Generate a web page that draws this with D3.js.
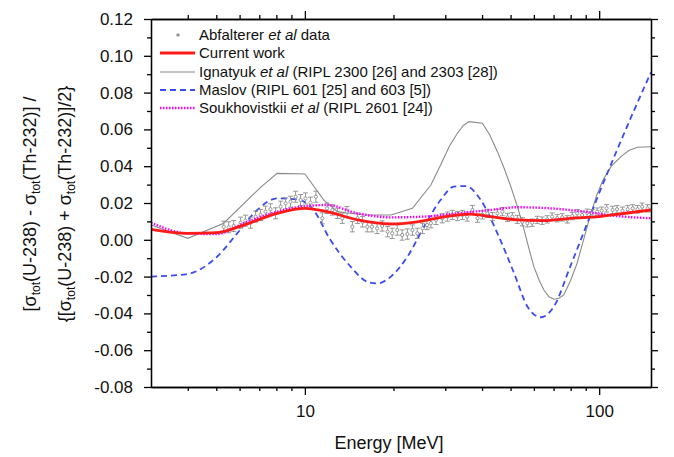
<!DOCTYPE html>
<html lang="en">
<head>
<meta charset="utf-8">
<title>U-238 / Th-232 total cross section difference</title>
<script src="https://cdn.jsdelivr.net/npm/d3@7/dist/d3.min.js"></script>
<style>
  body { margin: 0; background: #fff; }
  svg { font-family: "Liberation Sans", Arial, sans-serif; }
  .axis path, .axis line { stroke: #000; stroke-width: 1.3; }
  .axis text { font-size: 16px; fill: #111; }
</style>
</head>
<body>
<script>
// Abfalterer et al data
var dataE = [5.30,5.51,5.73,6.05,6.28,6.54,6.8,7.07,7.35,7.64,7.95,8.27,8.6,8.94,9.3,9.67,10.05,10.45,10.9,11.46,11.9,12.4,12.9,13.4,13.9,14.5,15.1,15.7,16.3,16.9,17.6,18.3,19.1,19.8,20.6,21.4,22.3,23.2,24.1,25.1,26.0,26.8,27.9,29.3,30.5,31.7,33.0,34.3,35.6,37.1,38.6,40.1,41.7,43.4,45.1,46.9,48.8,50.7,52.7,54.8,57.0,59.2,61.6,64.0,66.6,69.2,72.0,74.9,77.9,81.0,84.2,87.5,91.0,94.6,98.4,102,106,111,115,120,125,130,135,140,146];
var dataV = [0.0071,0.0068,0.0075,0.0093,0.0104,0.0093,0.0126,0.0135,0.0153,0.0166,0.0144,0.018,0.0198,0.0207,0.0234,0.0216,0.0225,0.0202,0.0234,0.0117,0.0171,0.0162,0.0144,0.0117,0.0153,0.0071,0.0117,0.0098,0.0071,0.0071,0.0062,0.0075,0.0044,0.0035,0.0053,0.0026,0.0031,0.0053,0.0035,0.0062,0.008,0.009,0.0108,0.0117,0.0126,0.0135,0.0129,0.0135,0.0126,0.0162,0.0117,0.0135,0.0144,0.0126,0.0144,0.0153,0.0122,0.0126,0.0111,0.0098,0.009,0.0093,0.0108,0.0104,0.0111,0.0126,0.0117,0.0122,0.0111,0.0129,0.0144,0.0135,0.0147,0.0144,0.0153,0.0158,0.0171,0.0162,0.0166,0.0158,0.0166,0.0171,0.0166,0.018,0.0171];
var dataErr = [0.003,0.003,0.003,0.003,0.003,0.003,0.003,0.003,0.003,0.003,0.003,0.003,0.003,0.003,0.003,0.003,0.003,0.003,0.003,0.003,0.0028,0.0028,0.0028,0.0028,0.0028,0.0028,0.0028,0.0028,0.0028,0.0028,0.0028,0.0028,0.0028,0.0028,0.0028,0.0028,0.0028,0.0028,0.0028,0.0028,0.0025,0.0025,0.0025,0.0025,0.0025,0.0025,0.0025,0.0025,0.0025,0.0025,0.0022,0.0022,0.0022,0.0022,0.0022,0.0022,0.0022,0.0022,0.0022,0.0022,0.002,0.002,0.002,0.002,0.002,0.002,0.002,0.002,0.002,0.002,0.002,0.002,0.002,0.002,0.002,0.002,0.002,0.002,0.002,0.002,0.002,0.002,0.002,0.002,0.002];

// Current work
var currentE = [3,3.98,5.03,6.2,8.05,10,11.9,15.1,19.6,24.1,30,36.5,42.8,52.7,64.7,79.7,100,117,150];
var currentV = [0.0057,0.0035,0.0039,0.008,0.0144,0.0171,0.0153,0.0108,0.0086,0.0098,0.0126,0.014,0.0126,0.0108,0.0104,0.0117,0.0126,0.014,0.0162];

// Ignatyuk et al
var ignE = [3,4.0,5.3,7.07,8.05,10,11.6,12.9,15.9,19.6,23.2,26.8,29,31,33,34.5,36.1,40.1,42.5,45.1,47.5,50.1,53,55.6,58,60,62.5,64.9,67.5,70.1,73,75.8,80,84.1,88.5,93,98,103,110,118.5,126,135,150];
var ignV = [0.0081,0.0008,0.009,0.0285,0.0361,0.0358,0.0216,0.0153,0.0135,0.0135,0.0171,0.0298,0.041,0.051,0.0579,0.062,0.0642,0.0633,0.057,0.0479,0.039,0.0289,0.017,0.0053,-0.006,-0.0146,-0.022,-0.0273,-0.031,-0.0323,-0.0318,-0.030,-0.022,-0.0128,0.0,0.0126,0.024,0.0325,0.040,0.0452,0.0485,0.0503,0.0506];

// Maslov
var masE = [3,3.98,5.03,5.89,6.89,8.05,9.42,10.7,12.2,14.3,16.3,17.6,19.6,22.3,25.4,28.9,32.1,35.2,39.6,45.1,51.4,57.1,63.3,70.1,79.7,93,101,115,131.5,150];
var masV = [-0.020,-0.0186,-0.0092,0.0035,0.0162,0.0225,0.022,0.0162,0.0,-0.0146,-0.0228,-0.0237,-0.020,-0.0092,0.0071,0.0216,0.0289,0.0292,0.0216,0.0035,-0.0182,-0.0364,-0.0421,-0.0364,-0.0146,0.0126,0.0271,0.0488,0.0705,0.091];

// Soukhovistkii et al
var souE = [3,3.98,5.03,6.2,8.05,10.2,11.9,15.1,19.6,25.4,33,42.8,52.7,68.2,88.9,115,150];
var souV = [0.0093,0.0035,0.0031,0.009,0.0153,0.0184,0.0189,0.0144,0.0122,0.0126,0.0144,0.0162,0.0177,0.0171,0.0153,0.0129,0.0117];

var xMajor = [10, 100];
var xMinor = [4,5,6,7,8,9,20,30,40,50,60,70,80,90];
var yMajor = [-0.08,-0.06,-0.04,-0.02,0,0.02,0.04,0.06,0.08,0.10,0.12];
var yMinor = [-0.07,-0.05,-0.03,-0.01,0.01,0.03,0.05,0.07,0.09,0.11];

var legendLabels = [
  ["Abfalterer ", "et al", " data"],
  ["Current work", "", ""],
  ["Ignatyuk ", "et al", " (RIPL 2300 [26] and 2303 [28])"],
  ["Maslov (RIPL 601 [25] and 603 [5])", "", ""],
  ["Soukhovistkii ", "et al", " (RIPL 2601 [24])"]
];

var W = 674, H = 457;
var mLeft = 151, mRight = 651, mTop = 19, mBottom = 387;

var svg = d3.select("body").append("svg")
    .attr("width", W).attr("height", H);

var x = d3.scaleLog().domain([3, 150]).range([mLeft, mRight]);
var y = d3.scaleLinear().domain([-0.08, 0.12]).range([mBottom, mTop]);

// clip for curves
svg.append("clipPath").attr("id", "clip")
  .append("rect").attr("x", mLeft).attr("y", mTop)
  .attr("width", mRight - mLeft).attr("height", mBottom - mTop);

var plot = svg.append("g").attr("clip-path", "url(#clip)");

function pts(es, vs) { return es.map(function(e, i) { return [e, vs[i]]; }); }

var smooth = d3.line().x(function(d) { return x(d[0]); }).y(function(d) { return y(d[1]); })
    .curve(d3.curveMonotoneX);
var segs = d3.line().x(function(d) { return x(d[0]); }).y(function(d) { return y(d[1]); });

// Ignatyuk (grey)
plot.append("path").datum(pts(ignE, ignV))
  .attr("d", segs).attr("fill", "none")
  .attr("stroke", "#8a8a8a").attr("stroke-width", 1.1);

// Maslov (blue dashed)
plot.append("path").datum(pts(masE, masV))
  .attr("d", smooth).attr("fill", "none")
  .attr("stroke", "#3a4cf0").attr("stroke-width", 1.8)
  .attr("stroke-dasharray", "6,4");

// data with error bars
var dat = dataE.map(function(e, i) { return {e: e, v: dataV[i], err: dataErr[i]}; });
var pg = plot.append("g").attr("stroke", "#8c8c8c").attr("stroke-width", 0.9).attr("fill", "none");
dat.forEach(function(d) {
  var cx = x(d.e), y0 = y(d.v - d.err), y1 = y(d.v + d.err);
  pg.append("line").attr("x1", cx).attr("x2", cx).attr("y1", y0).attr("y2", y1);
  pg.append("line").attr("x1", cx - 2.5).attr("x2", cx + 2.5).attr("y1", y0).attr("y2", y0);
  pg.append("line").attr("x1", cx - 2.5).attr("x2", cx + 2.5).attr("y1", y1).attr("y2", y1);
  pg.append("circle").attr("cx", cx).attr("cy", y(d.v)).attr("r", 1.6).attr("fill", "#fff");
});

// Soukhovistkii (magenta dotted)
plot.append("path").datum(pts(souE, souV))
  .attr("d", smooth).attr("fill", "none")
  .attr("stroke", "#ff00ff").attr("stroke-width", 2.4)
  .attr("stroke-dasharray", "1.5,1.5");

// Current work (red)
plot.append("path").datum(pts(currentE, currentV))
  .attr("d", smooth).attr("fill", "none")
  .attr("stroke", "#ff1a1a").attr("stroke-width", 2.8);

// axes
svg.append("g").attr("class", "axis")
  .attr("transform", "translate(0," + mBottom + ")")
  .call(d3.axisBottom(x).tickValues(xMajor).tickSize(8).tickPadding(10)
    .tickFormat(d3.format("d")).tickSizeOuter(0));
svg.append("g").attr("class", "axis")
  .attr("transform", "translate(0," + mBottom + ")")
  .call(d3.axisBottom(x).tickValues(xMinor).tickSize(4).tickFormat("").tickSizeOuter(0));
svg.append("g").attr("class", "axis")
  .attr("transform", "translate(0," + mTop + ")")
  .call(d3.axisTop(x).tickValues(xMajor).tickSize(8).tickFormat("").tickSizeOuter(0));
svg.append("g").attr("class", "axis")
  .attr("transform", "translate(0," + mTop + ")")
  .call(d3.axisTop(x).tickValues(xMinor).tickSize(4).tickFormat("").tickSizeOuter(0));

var yAx = svg.append("g").attr("class", "axis")
  .attr("transform", "translate(" + mLeft + ",0)")
  .call(d3.axisLeft(y).tickValues(yMajor).tickSize(7).tickPadding(11)
    .tickFormat(function(d) { return d.toFixed(2); }).tickSizeOuter(0));
svg.append("g").attr("class", "axis")
  .attr("transform", "translate(" + mLeft + ",0)")
  .call(d3.axisLeft(y).tickValues(yMinor).tickSize(4).tickFormat("").tickSizeOuter(0));
svg.append("g").attr("class", "axis")
  .attr("transform", "translate(" + mRight + ",0)")
  .call(d3.axisRight(y).tickValues(yMajor).tickSize(7).tickFormat("").tickSizeOuter(0));
svg.append("g").attr("class", "axis")
  .attr("transform", "translate(" + mRight + ",0)")
  .call(d3.axisRight(y).tickValues(yMinor).tickSize(4).tickFormat("").tickSizeOuter(0));

svg.selectAll(".axis text").style("font-size", "17px");

// axis titles
svg.append("text")
  .attr("x", (mLeft + mRight) / 2 - 12).attr("y", 449)
  .attr("text-anchor", "middle").style("font-size", "18px").attr("fill", "#111")
  .text("Energy [MeV]");

function yTitle(cx, parts) {
  var t = svg.append("text")
    .attr("transform", "translate(" + cx + ",204) rotate(-90)")
    .attr("text-anchor", "middle").style("font-size", "18px").attr("fill", "#111");
  parts.forEach(function(p) {
    if (p.sub) {
      t.append("tspan").attr("dy", 4).style("font-size", "12px").text(p.t);
    } else if (p.back) {
      t.append("tspan").attr("dy", -4).text(p.t);
    } else {
      t.append("tspan").text(p.t);
    }
  });
}
yTitle(36, [{t: "[σ"}, {t: "tot", sub: true}, {t: "(U-238) - σ", back: true}, {t: "tot", sub: true}, {t: "(Th-232)] /", back: true}]);
yTitle(71, [{t: "{[σ"}, {t: "tot", sub: true}, {t: "(U-238) + σ", back: true}, {t: "tot", sub: true}, {t: "(Th-232)]/2}", back: true}]);

// legend
var leg = svg.append("g");
var rowY = [35, 53, 72, 90, 108];
legendLabels.forEach(function(lab, i) {
  var ry = rowY[i];
  if (i === 0) {
    leg.append("circle").attr("cx", 178).attr("cy", ry).attr("r", 1.8).attr("fill", "#999");
  } else {
    var l = leg.append("line").attr("x1", 160).attr("x2", 195).attr("y1", ry).attr("y2", ry);
    if (i === 1) l.attr("stroke", "#ff1a1a").attr("stroke-width", 2.8);
    if (i === 2) l.attr("stroke", "#8a8a8a").attr("stroke-width", 1.1);
    if (i === 3) l.attr("stroke", "#3a4cf0").attr("stroke-width", 1.8).attr("stroke-dasharray", "6,4");
    if (i === 4) l.attr("stroke", "#ff00ff").attr("stroke-width", 2.4).attr("stroke-dasharray", "1.5,1.5");
  }
  var t = leg.append("text").attr("x", 199).attr("y", ry + 5)
    .style("font-size", "15px").attr("fill", "#111");
  t.append("tspan").text(lab[0]);
  if (lab[1]) t.append("tspan").style("font-style", "italic").text(lab[1]);
  if (lab[2]) t.append("tspan").text(lab[2]);
});
</script>
</body>
</html>
